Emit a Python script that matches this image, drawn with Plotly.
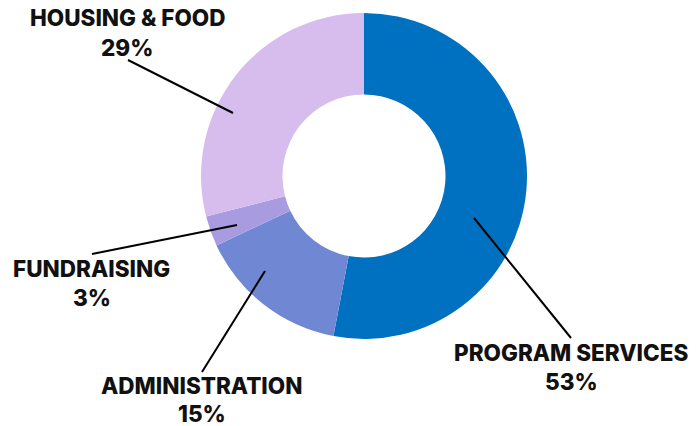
import plotly.graph_objects as go

categories = ["PROGRAM SERVICES", "ADMINISTRATION", "FUNDRAISING", "HOUSING & FOOD"]
values = [53, 15, 3, 29]
colors = ["#0070C0", "#7087D3", "#A99BDF", "#D7BDEE"]

W, H = 698, 426

def px(x):
    return x / W

def py(y):
    return 1 - y / H

# label placement (pixel centres) and leader line endpoints, in canvas pixels
label_pos = {
    "PROGRAM SERVICES": (571, 352, 381),
    "ADMINISTRATION": (202, 385, 413),
    "FUNDRAISING": (92, 268, 297),
    "HOUSING & FOOD": (127, 17, 47),
}
leader = {
    "PROGRAM SERVICES": ((571, 338), (474, 218)),
    "ADMINISTRATION": ((202, 372), (265, 271)),
    "FUNDRAISING": ((92, 254), (237, 225)),
    "HOUSING & FOOD": ((128, 60), (233, 113)),
}

fig = go.Figure(go.Pie(
    labels=categories,
    values=values,
    marker=dict(colors=colors, line=dict(width=0)),
    hole=0.5,
    sort=False,
    direction="clockwise",
    rotation=0,
    textinfo="none",
    showlegend=False,
    domain=dict(x=[px(364 - 163), px(364 + 163)], y=[py(339), py(13)]),
))

font = dict(family="Inter", size=22.5, color="#111111", weight=800)
annotations = []
shapes = []
for cat, val in zip(categories, values):
    cx, y1, y2 = label_pos[cat]
    annotations.append(dict(x=px(cx), y=py(y1), xref="paper", yref="paper",
                            text=cat, showarrow=False, xanchor="center",
                            yanchor="middle", font=font))
    annotations.append(dict(x=px(cx), y=py(y2), xref="paper", yref="paper",
                            text=f"{val}%", showarrow=False, xanchor="center",
                            yanchor="middle", font=font))
    (x0, y0), (x1, y1b) = leader[cat]
    shapes.append(dict(type="line", xref="paper", yref="paper",
                       x0=px(x0), y0=py(y0), x1=px(x1), y1=py(y1b),
                       line=dict(color="#000000", width=2)))

fig.update_layout(
    width=W, height=H,
    margin=dict(l=0, r=0, t=0, b=0),
    paper_bgcolor="white",
    plot_bgcolor="white",
    annotations=annotations,
    shapes=shapes,
)

fig.write_html("out.html", config={"displayModeBar": False},
               post_script="document.body.style.margin='0';document.body.style.overflow='hidden';")
